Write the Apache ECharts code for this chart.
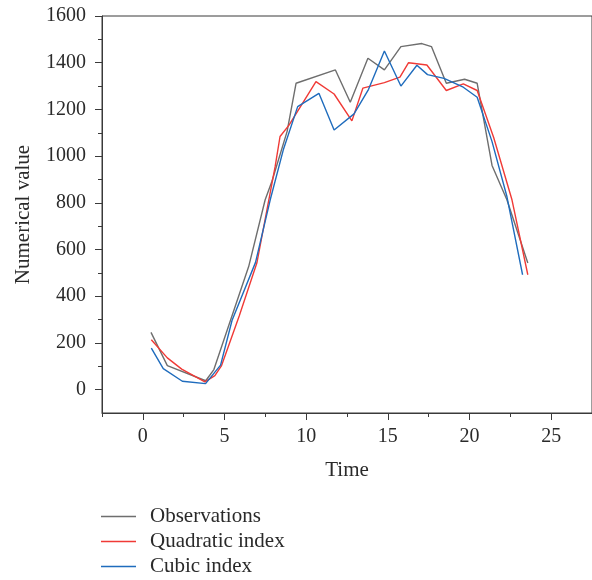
<!DOCTYPE html>
<html>
<head>
<meta charset="utf-8">
<script src="https://cdn.jsdelivr.net/npm/echarts@6/dist/echarts.min.js"></script>
<style>
  html, body { margin: 0; padding: 0; background: #fff; }
  #chart { width: 592px; height: 580px; }
</style>
</head>
<body>
<div id="chart"></div>
<script>
// values
const obsX = [0.5, 1.5, 3.85, 4.35, 6.48, 7.49, 7.9, 8.83, 9.38, 11.79, 12.7, 13.78, 14.79, 15.8, 17.08, 17.67, 18.58, 19.7, 20.47, 21.38, 22.29, 23.57];
const obsY = [245, 103, 38, 86, 527, 813, 891, 1105, 1312, 1369, 1231, 1419, 1369, 1469, 1482, 1469, 1312, 1329, 1312, 960, 813, 542];

const quadX = [0.52, 1.5, 2.38, 3.8, 4.41, 4.82, 5.9, 6.98, 8.1, 8.4, 8.95, 10.6, 11.71, 12.8, 13.47, 14.79, 15.74, 16.27, 17.39, 18.58, 19.62, 20.47, 21.48, 22.6, 23.57];
const quadY = [214, 136, 88, 33, 60, 103, 315, 542, 955, 1084, 1133, 1319, 1266, 1151, 1291, 1315, 1338, 1400, 1390, 1281, 1309, 1281, 1080, 813, 492];

const cubX = [0.52, 1.25, 2.42, 3.84, 4.76, 5.46, 6.9, 7.8, 8.6, 9.48, 10.78, 11.71, 12.93, 13.82, 14.79, 15.8, 16.78, 17.43, 18.44, 19.62, 20.47, 21.38, 22.29, 23.25];
const cubY = [178, 90, 36, 26, 105, 296, 545, 813, 1027, 1212, 1269, 1112, 1181, 1286, 1450, 1300, 1389, 1349, 1333, 1295, 1252, 1062, 827, 492];

const seriesNames = ['Observations', 'Quadratic index', 'Cubic index'];

const xTicks = [0, 5, 10, 15, 20, 25];
const xMinorTicks = [-2.5, 2.5, 7.5, 12.5, 17.5, 22.5];
const yTicks = [0, 200, 400, 600, 800, 1000, 1200, 1400, 1600];
const yMinorTicks = [100, 300, 500, 700, 900, 1100, 1300, 1500];

const FONT = 'Liberation Serif';
const TXT = '#2a2a2a';
const AX = '#3a3a3a';

const pairs = (xs, ys) => xs.map((x, i) => [x, ys[i]]);

const chart = echarts.init(document.getElementById('chart'), null, { renderer: 'canvas' });

const xBase = {
    type: 'value',
    min: -2.5,
    max: 27.5,
    interval: 2.5,
    splitLine: { show: false },
};
const yBase = {
    type: 'value',
    min: -100,
    max: 1600,
    interval: 100,
    splitLine: { show: false },
};

const option = {
    backgroundColor: '#fff',
    animation: false,
    grid: {
        left: 102,
        top: 16,
        right: -4,
        bottom: 167,
        show: true,
        borderColor: AX,
        borderWidth: 1,
    },
    legend: {
        orient: 'vertical',
        left: 101,
        top: 506,
        padding: 0,
        icon: 'rect',
        itemWidth: 35,
        itemHeight: 1.5,
        itemGap: 4,
        data: seriesNames,
        textStyle: { fontFamily: FONT, fontSize: 21, color: TXT, padding: [0, 0, 0, 9] },
    },
    xAxis: [
        Object.assign({}, xBase, {
            name: 'Time',
            nameLocation: 'middle',
            nameGap: 47,
            nameTextStyle: { fontFamily: FONT, fontSize: 21, color: TXT },
            axisLine: { show: true, onZero: false, lineStyle: { color: AX, width: 1 } },
            axisTick: { show: true, length: 7, customValues: xTicks, lineStyle: { color: AX } },
            axisLabel: { customValues: xTicks, margin: 14, fontFamily: FONT, fontSize: 20, color: TXT,
                formatter: (v) => String(v) },
        }),
        Object.assign({}, xBase, {
            position: 'bottom',
            axisLine: { show: false, onZero: false },
            axisTick: { show: true, length: 4, customValues: xMinorTicks, lineStyle: { color: AX } },
            axisLabel: { show: false },
        }),
    ],
    yAxis: [
        Object.assign({}, yBase, {
            name: 'Numerical value',
            nameLocation: 'middle',
            nameGap: 68,
            nameTextStyle: { fontFamily: FONT, fontSize: 21, color: TXT },
            axisLine: { show: true, onZero: false, lineStyle: { color: AX, width: 1 } },
            axisTick: { show: true, length: 7, customValues: yTicks, lineStyle: { color: AX } },
            axisLabel: { customValues: yTicks, margin: 16, fontFamily: FONT, fontSize: 20, color: TXT,
                formatter: (v) => String(v) },
        }),
        Object.assign({}, yBase, {
            position: 'left',
            axisLine: { show: false, onZero: false },
            axisTick: { show: true, length: 4, customValues: yMinorTicks, lineStyle: { color: AX } },
            axisLabel: { show: false },
        }),
    ],
    series: [
        {
            name: seriesNames[0],
            type: 'line',
            data: pairs(obsX, obsY),
            symbol: 'none',
            lineStyle: { color: '#6e6e6e', width: 1.4 },
            itemStyle: { color: '#6e6e6e' },
        },
        {
            name: seriesNames[1],
            type: 'line',
            data: pairs(quadX, quadY),
            symbol: 'none',
            lineStyle: { color: '#f03a36', width: 1.4 },
            itemStyle: { color: '#f03a36' },
        },
        {
            name: seriesNames[2],
            type: 'line',
            data: pairs(cubX, cubY),
            symbol: 'none',
            lineStyle: { color: '#1f6cbd', width: 1.4 },
            itemStyle: { color: '#1f6cbd' },
        },
    ],
};

chart.setOption(option);
</script>
</body>
</html>
